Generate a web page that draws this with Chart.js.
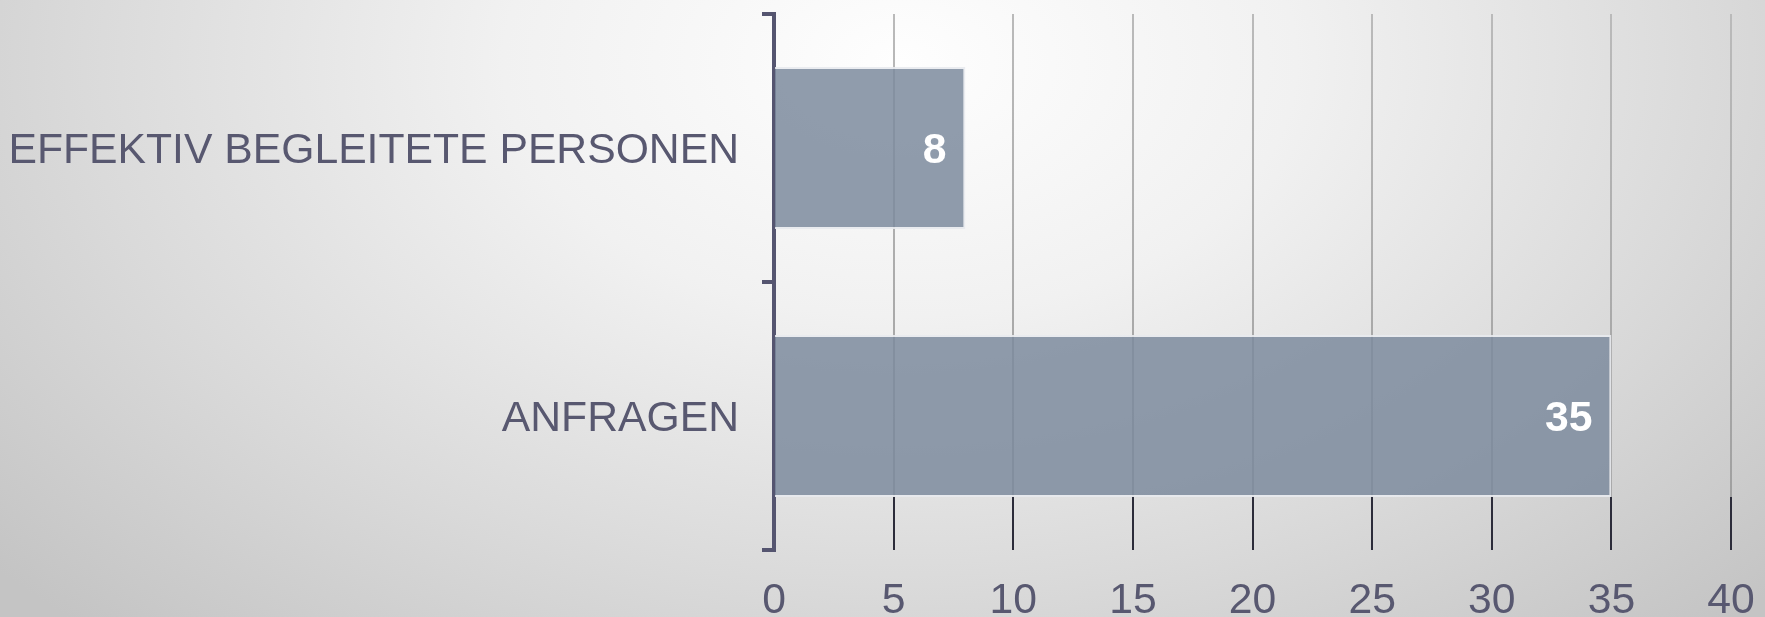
<!DOCTYPE html>
<html>
<head>
<meta charset="utf-8">
<title>Anfragen</title>
<script src="https://cdn.jsdelivr.net/npm/chart.js@4.4.1/dist/chart.umd.min.js"></script>
<style>
    html, body {
        margin: 0;
        padding: 0;
        width: 1765px;
        height: 617px;
        overflow: hidden;
    }
    body {
        background: radial-gradient(ellipse 68% 125% at 51% 10%, #fefefe 0%, #f1f1f1 33%, #dadada 68%, #c4c4c4 100%);
    }
    .chart-box {
        position: relative;
        width: 1765px;
        height: 617px;
    }
</style>
</head>
<body>
<div class="chart-box">
    <canvas id="barChart"></canvas>
</div>
<script>
// data
const categories = ['EFFEKTIV BEGLEITETE PERSONEN', 'ANFRAGEN'];
const values = [8, 35];
const xMin = 0;
const xMax = 40;
const xStep = 5;

const textColor = '#585870';
const axisColor = '#555570';
const fontFamily = '"Liberation Sans", Arial, sans-serif';
const fontSize = 42.7;

// grey grid lines, dark below the last bar
function gridColor(context) {
    const chart = context.chart;
    const area = chart.chartArea;
    const meta = chart.getDatasetMeta(0);
    if (!area || !meta.data.length) return '#b2b2b2';
    const last = meta.data[meta.data.length - 1];
    const cut = last.y + last.height / 2;
    const f = Math.min(1, Math.max(0, (cut - area.top) / (area.bottom - area.top)));
    const g = chart.ctx.createLinearGradient(0, area.top, 0, area.bottom);
    g.addColorStop(0, '#bababa');
    g.addColorStop(f, '#a0a0a0');
    g.addColorStop(f, '#2c2c3a');
    g.addColorStop(1, '#2c2c3a');
    return g;
}

// white numbers inside the bar ends
const valueLabels = {
    id: 'valueLabels',
    afterDatasetsDraw(chart) {
        const ctx = chart.ctx;
        const meta = chart.getDatasetMeta(0);
        ctx.save();
        ctx.font = 'bold ' + fontSize + 'px ' + fontFamily;
        ctx.fillStyle = '#ffffff';
        ctx.textAlign = 'right';
        ctx.textBaseline = 'middle';
        meta.data.forEach((bar, i) => {
            ctx.fillText(String(values[i]), bar.x - 19, bar.y + 3);
        });
        ctx.restore();
    }
};

const barCtx = document.getElementById('barChart').getContext('2d');
const barChart = new Chart(barCtx, {
    type: 'bar',
    data: {
        labels: categories,
        datasets: [{
            data: values,
            backgroundColor: 'rgba(125, 139, 157, 0.85)',
            borderColor: 'rgba(232, 234, 238, 0.9)',
            borderWidth: 2,
            borderSkipped: 'start',
            categoryPercentage: 1,
            barPercentage: 0.605
        }]
    },
    options: {
        indexAxis: 'y',
        responsive: true,
        maintainAspectRatio: false,
        animation: false,
        layout: {
            padding: { top: 14, right: 34, left: 0, bottom: 0 }
        },
        scales: {
            x: {
                min: xMin,
                max: xMax,
                ticks: {
                    stepSize: xStep,
                    color: textColor,
                    padding: 26,
                    font: { family: fontFamily, size: fontSize }
                },
                grid: {
                    color: gridColor,
                    lineWidth: 2,
                    drawTicks: false
                },
                border: { display: false },
                afterFit(scale) {
                    // labels run off the bottom edge like in the original
                    scale.height = 67;
                    scale.paddingLeft = 0;
                    scale.paddingRight = 0;
                }
            },
            y: {
                ticks: {
                    color: textColor,
                    padding: 23,
                    labelOffset: 3,
                    font: { family: fontFamily, size: fontSize }
                },
                grid: {
                    offset: true,
                    drawOnChartArea: false,
                    tickLength: 12,
                    color: axisColor,
                    lineWidth: 4
                },
                border: { display: true, color: axisColor, width: 4 },
                afterFit(scale) {
                    scale.width = 774;
                    scale.paddingTop = 0;
                    scale.paddingBottom = 0;
                }
            }
        },
        plugins: {
            legend: { display: false },
            tooltip: { enabled: false }
        }
    },
    plugins: [valueLabels]
});
</script>
</body>
</html>
